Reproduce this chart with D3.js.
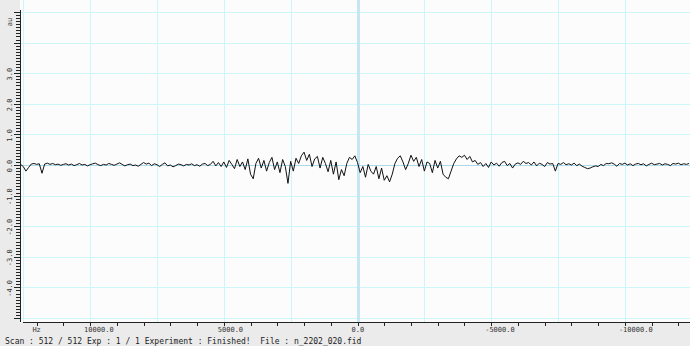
<!DOCTYPE html>
<html><head><meta charset="utf-8">
<script src="https://cdn.jsdelivr.net/npm/d3@7"></script>
<style>body{margin:0;background:#ebebeb}svg{display:block}</style>
</head><body>
<svg id="c" width="690" height="346"></svg>
<script>
// frequency axis (Hz), descending 12600 -> -12400 in 100 Hz steps
const hzStart = 12600, hzStep = 100;
const intensity = [
0.02,-0.05,-0.20,-0.08,0.03,0.05,0.02,0.04,-0.27,0.03,
0.06,0.02,0.05,0.01,0.03,-0.01,0.02,0.04,0.00,0.03,
-0.02,0.01,0.05,0.00,0.02,-0.03,0.01,0.04,0.06,0.01,
-0.02,0.02,0.00,0.05,0.02,-0.01,0.03,0.07,0.02,-0.03,
0.01,0.03,-0.02,0.00,-0.04,0.02,0.08,0.03,0.06,-0.02,
0.04,0.01,-0.05,0.02,0.07,-0.03,0.00,-0.06,-0.02,0.03,
0.01,-0.03,0.02,0.00,0.04,-0.02,0.01,-0.04,0.03,0.05,
-0.02,0.02,0.12,-0.03,0.08,-0.05,0.10,-0.08,0.15,0.02,
-0.12,0.18,-0.05,0.10,-0.15,0.20,-0.30,-0.45,0.05,0.22,
-0.10,0.15,-0.20,0.08,0.25,-0.15,0.10,-0.25,0.18,-0.05,
-0.60,0.12,-0.20,0.22,0.05,0.30,0.42,0.15,0.35,-0.05,
0.20,0.28,-0.10,0.25,0.05,-0.22,0.15,-0.30,0.10,-0.48,
-0.15,-0.35,0.05,0.25,0.18,0.30,0.08,-0.25,-0.05,-0.40,
0.02,-0.20,-0.30,-0.05,-0.45,-0.10,-0.50,-0.35,-0.55,-0.30,
0.05,0.22,0.30,0.10,-0.15,0.05,0.32,0.12,0.25,-0.05,
0.18,-0.20,0.10,0.05,-0.25,0.15,-0.10,0.12,-0.30,-0.40,
-0.45,-0.20,0.05,0.20,0.30,0.25,0.32,0.18,0.28,0.10,
0.15,0.02,0.08,-0.05,0.05,-0.08,0.10,0.00,0.06,-0.04,
0.08,0.12,-0.02,0.05,-0.10,0.03,0.07,0.02,0.12,0.05,
0.08,0.00,0.10,-0.03,0.06,0.02,-0.05,0.08,0.03,0.05,
-0.20,0.05,0.02,0.08,0.01,0.04,0.00,0.06,-0.02,0.03,
-0.04,-0.08,-0.12,-0.10,-0.06,-0.03,-0.05,0.02,-0.02,0.05,
0.04,0.07,0.03,-0.04,0.05,0.02,0.06,0.00,0.04,-0.02,
0.03,0.05,0.01,0.04,-0.03,0.02,0.06,0.01,0.03,0.05,
0.00,0.04,0.02,-0.02,0.05,0.03,0.06,0.01,0.04,0.02,
0.05];
const xTickLabels = ["10000.0","5000.0","0.0","-5000.0","-10000.0"];
const xTickValues = [10000,5000,0,-5000,-10000];
const yTickLabels = ["3.0","2.0","1.0","0.0","-1.0","-2.0","-3.0","-4.0"];
const yTickValues = [3,2,1,0,-1,-2,-3,-4];
const xUnit = "Hz", yUnit = "au";
const statusText = "Scan : 512 / 512 Exp : 1 / 1 Experiment : Finished!  File : n_2202_020.fid";

const svg = d3.select("#c");
const L = 20, R = 690, T = 0, B = 322;
const x = d3.scaleLinear().domain([12622, -12435]).range([L, R]);
const y = d3.scaleLinear().domain([5, -5]).range([12, 318]);

// backgrounds
svg.append("rect").attr("x",0).attr("y",0).attr("width",690).attr("height",346).attr("fill","#ebebeb");
svg.append("rect").attr("x",L).attr("y",T).attr("width",R-L).attr("height",B-T).attr("fill","#fcfcfc");

// grid
const gridColor = "#cdf6fb";
const vGrid = d3.range(12500, -12500, -2500).filter(v => v !== 0);
svg.append("g").selectAll("line").data(vGrid).join("line")
  .attr("x1",d=>Math.round(x(d))+0.5).attr("x2",d=>Math.round(x(d))+0.5)
  .attr("y1",T).attr("y2",B).attr("stroke",gridColor).attr("stroke-width",1);
const hGrid = d3.range(5, -5.5, -1).filter(v => v !== 0);
svg.append("g").selectAll("line").data(hGrid).join("line")
  .attr("x1",L).attr("x2",R).attr("y1",d=>Math.round(y(d))+0.5).attr("y2",d=>Math.round(y(d))+0.5)
  .attr("stroke",gridColor).attr("stroke-width",1);
// zero lines
svg.append("line").attr("x1",Math.round(x(0))+0.5).attr("x2",Math.round(x(0))+0.5).attr("y1",T).attr("y2",B)
  .attr("stroke","#c6e6f6").attr("stroke-width",3);
svg.append("line").attr("x1",L).attr("x2",R).attr("y1",Math.round(y(0))+0.5).attr("y2",Math.round(y(0))+0.5)
  .attr("stroke","#a9d9ec").attr("stroke-width",1);

// spectrum
const line = d3.line().x((d,i)=>x(hzStart - i*hzStep)).y(d=>y(d));
svg.append("path").datum(intensity).attr("d",line).attr("fill","none")
  .attr("stroke","#111").attr("stroke-width",1).attr("stroke-linejoin","round");

// y axis
const yAxisG = svg.append("g");
yAxisG.append("line").attr("x1",L+0.5).attr("x2",L+0.5).attr("y1",10).attr("y2",B).attr("stroke","#222");
const yMinor = d3.range(-50, 51).map(k => k/10).filter(v => y(v) > 10 && y(v) < B);
yAxisG.selectAll("line.t").data(yMinor).join("line").attr("class","t")
  .attr("x1",d => Math.abs(d - Math.round(d)) < 1e-6 ? L-6 : L-4).attr("x2",L)
  .attr("y1",d=>Math.round(y(d))+0.5).attr("y2",d=>Math.round(y(d))+0.5).attr("stroke","#222");
yAxisG.selectAll("text").data(yTickValues).join("text")
  .attr("transform",(d)=>`translate(12,${y(d)+1}) rotate(-90)`)
  .attr("text-anchor","middle").attr("font-family","DejaVu Sans Mono").attr("font-size",7).attr("fill","#333")
  .text((d,i)=>yTickLabels[i]);
svg.append("text").attr("transform","translate(12,22) rotate(-90)").attr("text-anchor","middle")
  .attr("font-family","DejaVu Sans Mono").attr("font-size",7).attr("fill","#333").text(yUnit);

// x axis
const xAxisG = svg.append("g");
xAxisG.append("line").attr("x1",L+3).attr("x2",R).attr("y1",B+0.5).attr("y2",B+0.5).attr("stroke","#222");
const xTicks = d3.range(12000, -13000, -1000);
xAxisG.selectAll("line.t").data(xTicks).join("line").attr("class","t")
  .attr("x1",d=>Math.round(x(d))+0.5).attr("x2",d=>Math.round(x(d))+0.5)
  .attr("y1",B).attr("y2",B+4).attr("stroke","#222");
xAxisG.selectAll("text").data(xTickValues).join("text")
  .attr("x",d=>x(d)-6).attr("y",B+10).attr("text-anchor","start")
  .attr("font-family","DejaVu Sans Mono").attr("font-size",7).attr("fill","#333")
  .text((d,i)=>xTickLabels[i]);
svg.append("text").attr("x",x(12000)).attr("y",B+10).attr("text-anchor","middle")
  .attr("font-family","DejaVu Sans Mono").attr("font-size",7).attr("fill","#333").text(xUnit);

// status bar
svg.append("text").attr("x",5).attr("y",344).attr("font-family","DejaVu Sans Mono").attr("font-size",8)
  .attr("fill","#222").attr("xml:space","preserve").style("white-space","pre").text(statusText);
</script>
</body></html>
